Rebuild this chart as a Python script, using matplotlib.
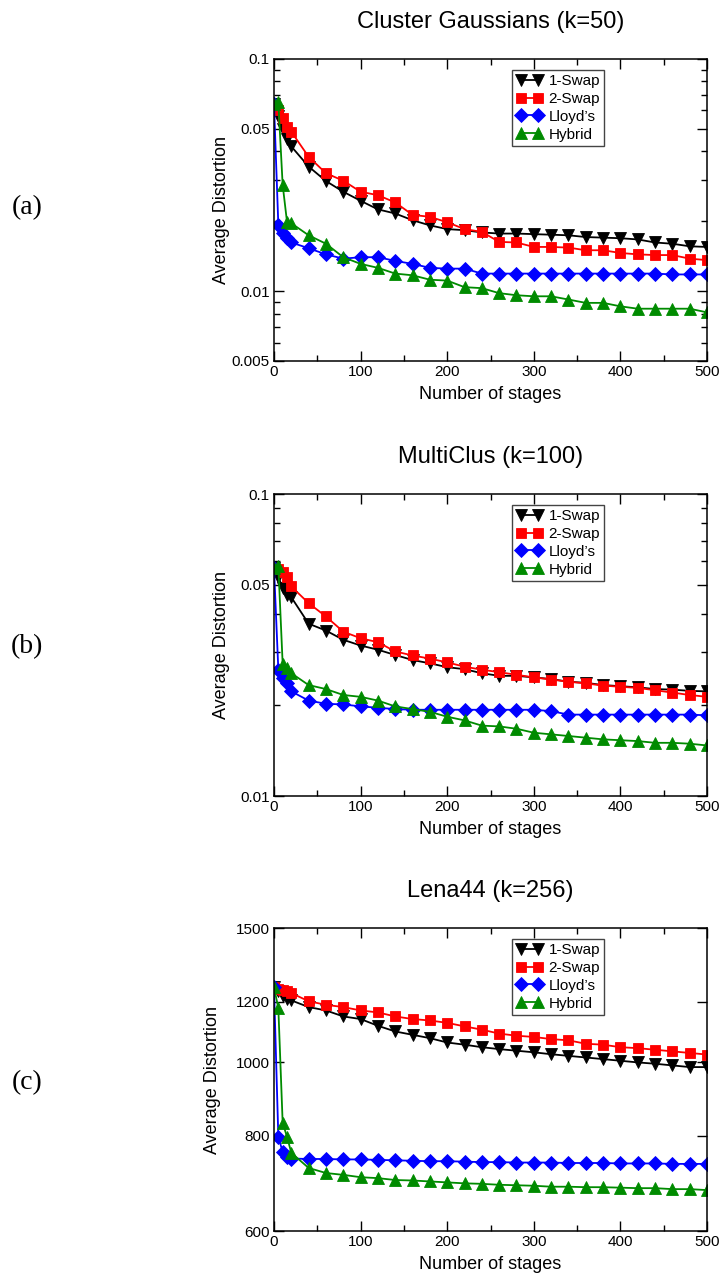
# Average distortion vs. number of stages for three data sets
# (1-Swap, 2-Swap, Lloyd's and Hybrid), three stacked log-scale panels.

import matplotlib
matplotlib.use('Agg')
import matplotlib.pyplot as plt
from matplotlib.ticker import LogLocator, NullFormatter, NullLocator

plt.rcParams['font.family'] = ['Liberation Sans', 'DejaVu Sans']

# stages at which the distortion was recorded
stages = [0, 5, 10, 15, 20, 40, 60, 80, 100, 120, 140, 160, 180, 200, 220, 240,
          260, 280, 300, 320, 340, 360, 380, 400, 420, 440, 460, 480, 500]

# (a) Cluster Gaussians (k=50)
a_swap1 = [0.064, 0.057, 0.050, 0.045, 0.042, 0.0344, 0.0298, 0.0268, 0.0245, 0.0225,
           0.0216, 0.0202, 0.0192, 0.0185, 0.0183, 0.0179, 0.0177, 0.0177, 0.0176, 0.0175,
           0.0174, 0.0171, 0.0170, 0.0169, 0.0167, 0.0162, 0.0160, 0.0156, 0.0155]
a_swap2 = [0.064, 0.060, 0.0557, 0.051, 0.0486, 0.0379, 0.0322, 0.0299, 0.0268, 0.0259,
           0.0241, 0.0213, 0.0209, 0.0198, 0.0185, 0.0180, 0.0163, 0.0162, 0.0155, 0.0155,
           0.0154, 0.0150, 0.0150, 0.0146, 0.0144, 0.0143, 0.0143, 0.0138, 0.0136]
a_lloyd = [0.064, 0.0193, 0.0178, 0.0169, 0.0162, 0.0153, 0.0144, 0.0138, 0.0140, 0.0140,
           0.0135, 0.0131, 0.0126, 0.0125, 0.0125, 0.0119, 0.0119, 0.0119, 0.0119, 0.0119,
           0.0119, 0.0119, 0.0119, 0.0119, 0.0119, 0.0119, 0.0118, 0.0118, 0.0118]
a_hybrid = [0.064, 0.065, 0.0287, 0.0199, 0.0196, 0.0174, 0.0160, 0.0140, 0.0131, 0.0126,
            0.0119, 0.0117, 0.0112, 0.0111, 0.0104, 0.0103, 0.0098, 0.0096, 0.0095, 0.0095,
            0.0092, 0.0089, 0.0089, 0.0086, 0.0084, 0.0084, 0.0084, 0.0084, 0.0081]

# (b) MultiClus (k=100)
b_swap1 = [0.057, 0.053, 0.049, 0.0463, 0.0455, 0.0372, 0.0353, 0.0329, 0.0315, 0.0305,
           0.0293, 0.0282, 0.0275, 0.0267, 0.0263, 0.0255, 0.0250, 0.0250, 0.0247, 0.0244,
           0.0239, 0.0237, 0.0233, 0.0231, 0.0229, 0.0226, 0.0225, 0.0223, 0.0222]
b_swap2 = [0.057, 0.0563, 0.055, 0.0533, 0.0494, 0.0435, 0.0393, 0.0350, 0.0333, 0.0323,
           0.0301, 0.0292, 0.0285, 0.0277, 0.0268, 0.0262, 0.0257, 0.0252, 0.0247, 0.0243,
           0.0239, 0.0236, 0.0232, 0.0230, 0.0228, 0.0224, 0.0220, 0.0216, 0.0213]
b_lloyd = [0.057, 0.0262, 0.0246, 0.0237, 0.0222, 0.0207, 0.0202, 0.0201, 0.0198, 0.0196,
           0.0194, 0.0193, 0.0193, 0.0193, 0.0193, 0.0193, 0.0193, 0.0193, 0.0193, 0.0191,
           0.0186, 0.0186, 0.0186, 0.0186, 0.0186, 0.0186, 0.0186, 0.0186, 0.0185]
b_hybrid = [0.057, 0.0578, 0.0274, 0.0265, 0.0255, 0.0233, 0.0226, 0.0216, 0.0213, 0.0207,
            0.0198, 0.0194, 0.0190, 0.0183, 0.0178, 0.0171, 0.0170, 0.0167, 0.0162, 0.0160,
            0.0158, 0.0156, 0.0154, 0.0153, 0.0152, 0.0150, 0.0150, 0.0149, 0.0147]

# (c) Lena44 (k=256)
c_swap1 = [1253, 1238, 1222, 1210, 1205, 1181, 1169, 1148, 1139, 1116, 1097, 1086, 1075, 1061,
           1054, 1046, 1040, 1035, 1030, 1024, 1019, 1014, 1009, 1004, 999, 995, 990, 985, 985]
c_swap2 = [1253, 1247, 1242, 1238, 1232, 1202, 1189, 1181, 1169, 1162, 1148, 1139, 1134, 1126,
           1114, 1103, 1090, 1083, 1079, 1072, 1068, 1057, 1054, 1046, 1043, 1038, 1033, 1028, 1023]
c_lloyd = [1253, 798, 762, 750, 747, 746, 746, 745, 745, 744, 743, 742, 741, 741,
           740, 739, 739, 738, 738, 738, 737, 737, 737, 736, 736, 736, 735, 735, 735]
c_hybrid = [1253, 1178, 832, 798, 760, 726, 715, 711, 706, 704, 700, 699, 697, 695,
            693, 692, 690, 689, 688, 686, 686, 685, 685, 684, 683, 683, 681, 681, 679]

method_names = ['1-Swap', '2-Swap', "Lloyd\u2019s", 'Hybrid']

titles = ['Cluster Gaussians (k=50)', 'MultiClus (k=100)', 'Lena44 (k=256)']
panel_tags = ['(a)', '(b)', '(c)']
y_ticks = [[0.005, 0.01, 0.05, 0.1], [0.01, 0.05, 0.1], [600, 800, 1000, 1200, 1500]]
y_tick_labels = [['0.005', '0.01', '0.05', '0.1'], ['0.01', '0.05', '0.1'],
                 ['600', '800', '1000', '1200', '1500']]
x_ticks = [0, 100, 200, 300, 400, 500]

panels = [
    [a_swap1, a_swap2, a_lloyd, a_hybrid],
    [b_swap1, b_swap2, b_lloyd, b_hybrid],
    [c_swap1, c_swap2, c_lloyd, c_hybrid],
]

colors = ['black', '#ff0000', '#0000ff', '#008b00']
markers = ['v', 's', 'D', '^']
sizes = [8.5, 7.5, 7, 8.5]

fig = plt.figure(figsize=(7.2, 12.77), dpi=100)

# axes boxes in pixels: left, right, top, bottom
W, H = 720, 1277
boxes = [(274, 707, 59, 361), (274, 707, 494, 796), (274, 707, 928, 1231)]
ylabel_x = [-0.1016, -0.1016, -0.1224]
tag_y = [208, 647, 1083]

for i in range(3):
    l, r, t, b = boxes[i]
    ax = fig.add_axes([l / W, 1 - b / H, (r - l) / W, (b - t) / H])

    for series, name, c, m, ms in zip(panels[i], method_names, colors, markers, sizes):
        ax.plot(stages, series, color=c, marker=m, markersize=ms, linewidth=1.3,
                markeredgewidth=0.6, markeredgecolor=c, label=name)

    ax.set_yscale('log')
    ax.set_xlim(0, 500)
    ax.set_ylim(y_ticks[i][0], y_ticks[i][-1])

    ax.set_xticks(x_ticks)
    ax.set_xticks([50, 150, 250, 350, 450], minor=True)
    ax.set_yticks(y_ticks[i])
    ax.set_yticklabels(y_tick_labels[i])
    if i < 2:
        ax.yaxis.set_minor_locator(LogLocator(base=10, subs=[2, 3, 4, 6, 7, 8, 9]))
    else:
        ax.yaxis.set_minor_locator(NullLocator())
    ax.yaxis.set_minor_formatter(NullFormatter())

    ax.tick_params(which='both', direction='in', top=True, right=True, width=1,
                   labelsize=11, pad=3)
    ax.tick_params(which='major', length=7)
    ax.tick_params(which='minor', length=4)
    for sp in ax.spines.values():
        sp.set_linewidth(1.1)

    ax.set_title(titles[i], fontsize=17, pad=22)
    ax.set_xlabel('Number of stages', fontsize=13, labelpad=5)
    ax.set_ylabel('Average Distortion', fontsize=13)
    ax.yaxis.set_label_coords(ylabel_x[i], 0.5)

    leg = ax.legend(loc='upper left', bbox_to_anchor=(0.549, 0.965), numpoints=2,
                    fontsize=11, handlelength=1.75, handletextpad=0.35,
                    labelspacing=0.25, borderpad=0.3, borderaxespad=0,
                    fancybox=False, framealpha=1)
    leg.get_frame().set_edgecolor('#444444')
    leg.get_frame().set_linewidth(1.0)

    # panel tag on the far left
    fig.text(27 / W, 1 - tag_y[i] / H, panel_tags[i], fontsize=20,
             family=['Liberation Serif', 'DejaVu Serif'], ha='center', va='center')

plt.savefig('out.png', dpi=100)
